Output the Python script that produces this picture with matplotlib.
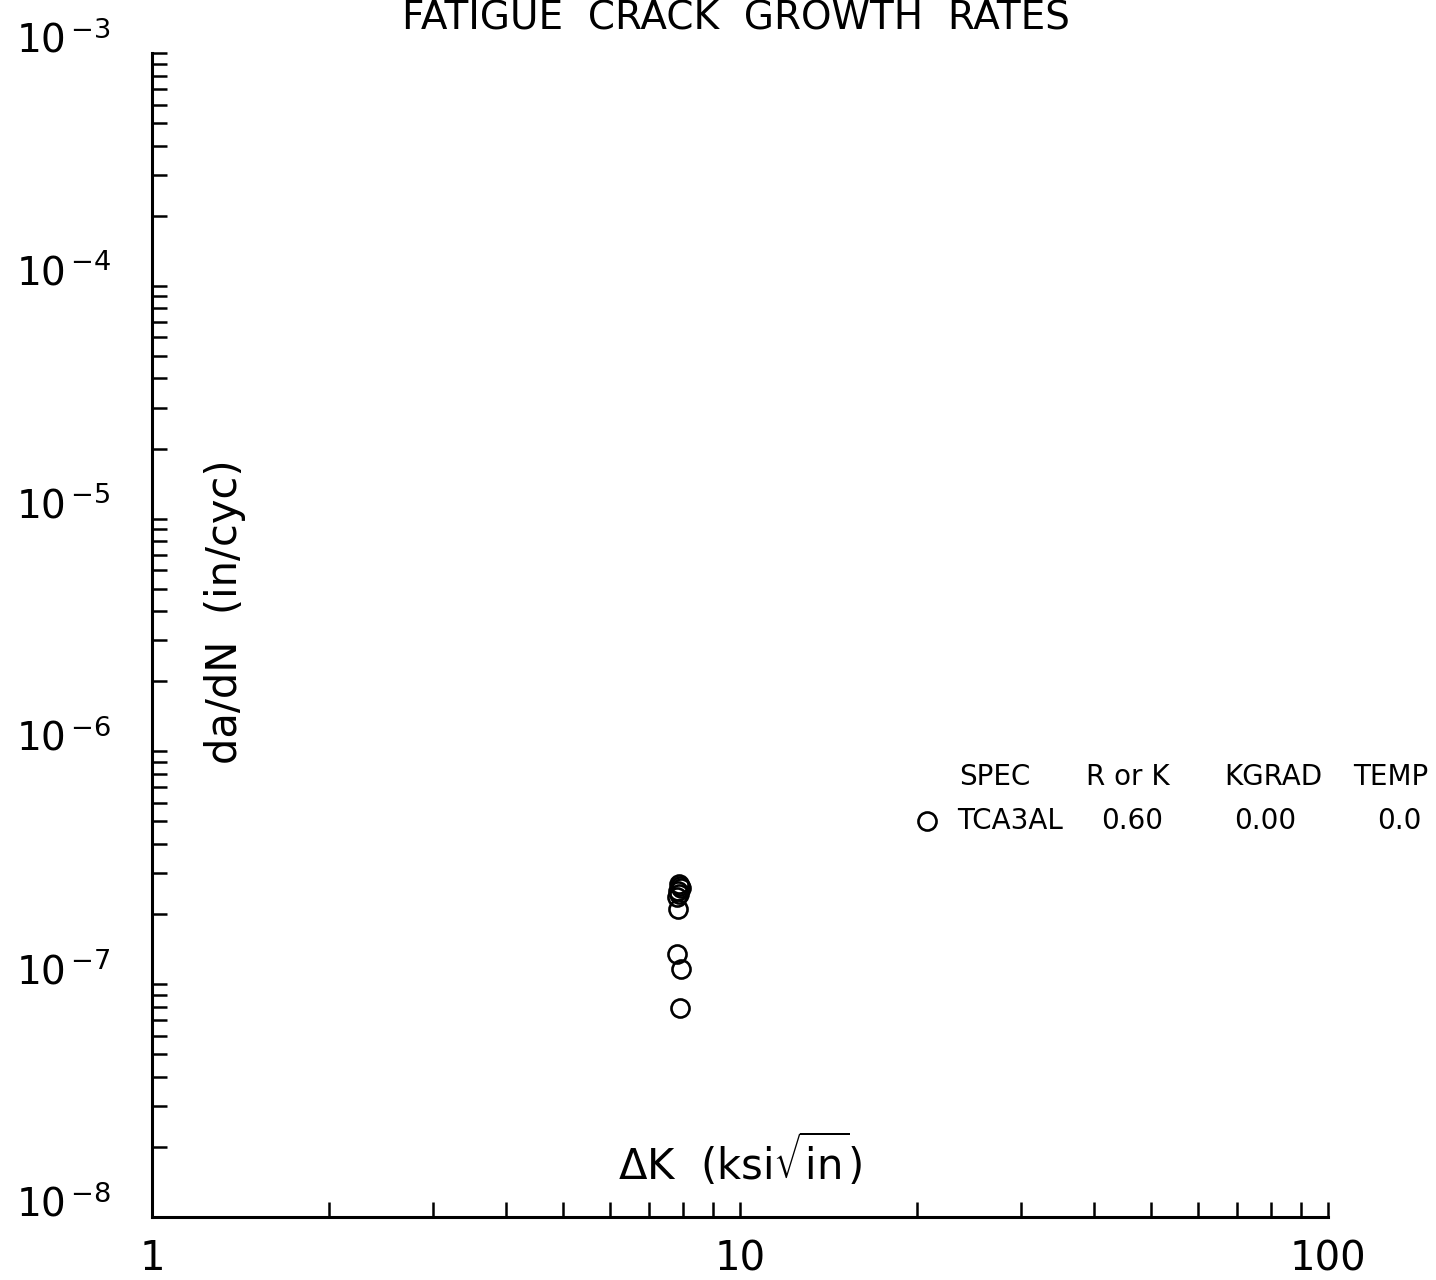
import numpy as np
import matplotlib.pyplot as plt
import matplotlib.transforms as mtransforms
from matplotlib.ticker import FixedLocator, FixedFormatter, LogLocator, NullFormatter

# data
dk = [7.88, 7.91, 7.94, 7.85, 7.88, 7.81, 7.85, 7.81, 7.94, 7.91]
dadn = [2.69e-7, 2.64e-7, 2.59e-7, 2.51e-7, 2.44e-7, 2.37e-7, 2.10e-7,
        1.35e-7, 1.16e-7, 7.9e-8]

x_ticks = [1, 10, 100]
x_labels = ['1', '10', '100']
y_ticks = [1e-8, 1e-7, 1e-6, 1e-5, 1e-4, 1e-3]
y_labels = [r'$10^{\,{-8}}$', r'$10^{\,{-7}}$', r'$10^{\,{-6}}$', r'$10^{\,{-5}}$',
            r'$10^{\,{-4}}$', r'$10^{\,{-3}}$']

legend_header = ['SPEC', 'R or K', 'KGRAD', 'TEMP']
legend_row = ['TCA3AL', '0.60', '0.00', '0.0']

W, H = 1436, 1280
fig = plt.figure(figsize=(W / 100, H / 100), dpi=100)
ax = fig.add_axes([152 / W, 1 - 1217 / H, (1328 - 152) / W, (1217 - 53) / H])
ax.set_xscale('log')
ax.set_yscale('log')
ax.set_xlim(1, 100)
ax.set_ylim(1e-8, 1e-3)

ax.plot(dk, dadn, 'o', mfc='none', mec='black', ms=13, mew=1.9)

for s in ['top', 'right']:
    ax.spines[s].set_visible(False)
for s in ['left', 'bottom']:
    ax.spines[s].set_linewidth(2.2)

ax.xaxis.set_major_locator(FixedLocator(x_ticks))
ax.xaxis.set_major_formatter(FixedFormatter(x_labels))
ax.xaxis.set_minor_locator(LogLocator(base=10, subs=np.arange(2, 10)))
ax.xaxis.set_minor_formatter(NullFormatter())
ax.yaxis.set_major_locator(FixedLocator(y_ticks))
ax.yaxis.set_major_formatter(FixedFormatter(y_labels))
ax.yaxis.set_minor_locator(LogLocator(base=10, subs=np.arange(2, 10)))
ax.yaxis.set_minor_formatter(NullFormatter())

ax.tick_params(which='both', direction='in', length=11, width=1.8,
               top=False, right=False)
ax.tick_params(axis='x', labelsize=29, pad=16)
ax.tick_params(axis='y', labelsize=28, pad=30)

# y labels sit a bit above their ticks
offset = mtransforms.ScaledTranslation(0, 12 / 72, fig.dpi_scale_trans)
for lab in ax.get_yticklabels():
    lab.set_transform(lab.get_transform() + offset)

fig.text(736 / W, 1 - 18 / H, 'FATIGUE  CRACK  GROWTH  RATES',
         ha='center', va='center', fontsize=28)
ax.text(0.062, 0.52, 'da/dN  (in/cyc)', rotation=90, transform=ax.transAxes,
        fontsize=30, ha='center', va='center')
ax.text(0.5, 0.049, r'$\Delta$K  (ksi$\sqrt{\mathrm{in}}$)', transform=ax.transAxes,
        fontsize=30, ha='center', va='center')

# legend block
hx = [995, 1128, 1273, 1391]
rx = [1010, 1132, 1265, 1399]
for x, t in zip(hx, legend_header):
    fig.text(x / W, 1 - 777 / H, t, ha='center', va='center', fontsize=20)
for x, t in zip(rx, legend_row):
    fig.text(x / W, 1 - 821 / H, t, ha='center', va='center', fontsize=20)
ax.plot([927 / W], [1 - 821 / H], 'o', mfc='none', mec='black', ms=13, mew=1.9,
        transform=fig.transFigure, clip_on=False)

fig.savefig('out.png', dpi=100)
